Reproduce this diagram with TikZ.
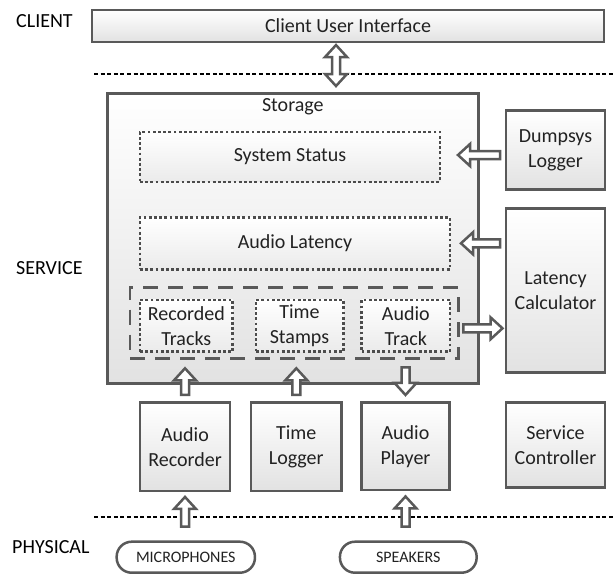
\documentclass[tikz,border=0pt]{standalone}
\usepackage{fontspec}
\setmainfont{Carlito}
\usetikzlibrary{calc}
\definecolor{edge}{HTML}{595959}
\definecolor{txt}{HTML}{222222}
\definecolor{shadeb}{HTML}{E2E2E2}
\tikzset{
  base/.style={inner sep=0pt, outer sep=0pt, text=txt, font=\fontsize{20}{25}\selectfont, align=center},
  sz/.style 2 args={minimum width=#1, minimum height=#2},
  box/.style={base, draw=edge, line width=2.5pt, top color=white, bottom color=shadeb},
  dotbox/.style={base, draw=edge!85!black, line width=2.4pt, dash pattern=on 2.8pt off 2.4pt, top color=white, bottom color=shadeb!70},
  grpbox/.style={base, draw=edge, line width=2.5pt, dash pattern=on 15pt off 10pt},
  pill/.style={base, draw=edge, line width=2.5pt, rounded corners=15pt, fill=white, font=\fontsize{16}{19}\selectfont},
  layer/.style={inner sep=0pt, anchor=west, text=black, font=\fontsize{20}{24}\selectfont},
  sepline/.style={black, line width=2.8pt, dash pattern=on 4pt off 2.6pt},
  barrow/.style={draw=edge, fill=white, line width=2.5pt, line join=miter},
}
% point along (#1) and across (#2) the arrow axis
\newcommand\bap[2]{({\x1+(#1)*\n2-(#2)*\n3},{\y1+(#1)*\n3+(#2)*\n2})}
\newcommand\blockarrow[2]{%
  \draw[barrow] let \p1=#1, \p2=#2, \n1={veclen(\x2-\x1,\y2-\y1)},
    \n2={(\x2-\x1)/\n1}, \n3={(\y2-\y1)/\n1} in
    \bap{0pt}{4pt} -- \bap{\n1-12pt}{4pt} -- \bap{\n1-12pt}{11pt} -- \bap{\n1}{0pt}
    -- \bap{\n1-12pt}{-11pt} -- \bap{\n1-12pt}{-4pt} -- \bap{0pt}{-4pt} -- cycle;}
\newcommand\dblockarrow[2]{%
  \draw[barrow] let \p1=#1, \p2=#2, \n1={veclen(\x2-\x1,\y2-\y1)},
    \n2={(\x2-\x1)/\n1}, \n3={(\y2-\y1)/\n1} in
    \bap{0pt}{0pt} -- \bap{12pt}{11pt} -- \bap{12pt}{4pt} -- \bap{\n1-12pt}{4pt}
    -- \bap{\n1-12pt}{11pt} -- \bap{\n1}{0pt} -- \bap{\n1-12pt}{-11pt}
    -- \bap{\n1-12pt}{-4pt} -- \bap{12pt}{-4pt} -- \bap{12pt}{-11pt} -- cycle;}
\begin{document}
\begin{tikzpicture}[x=1pt, y=-1pt]
\useasboundingbox (0,0) rectangle (615,574);

% layer labels
\node[layer] (lclient) at (16,21) {CLIENT};
\node[layer] (lservice) at (16,268) {SERVICE};
\node[layer] (lphys) at (12,547) {PHYSICAL};

% separators
\coordinate (s1a) at (94,74);  \coordinate (s1b) at (615,74);
\coordinate (s2a) at (94,517); \coordinate (s2b) at (615,517);
\draw[sepline] (s1a) -- (s1b);
\draw[sepline] (s2a) -- (s2b);

% client
\node[box, sz={512pt}{31.7pt}] (cui) at (348,25.9) {Client User Interface};

% storage
\node[box, sz={371pt}{290pt}] (storage) at (292.8,238.3) {};
\node[base] (storlabel) at (292.8,106.7) {Storage};
\node[dotbox, sz={300pt}{50pt}] (sysstat) at (290,156.7) {System Status};
\node[dotbox, sz={310pt}{52pt}] (audlat) at (295,243.3) {Audio Latency};
\node[grpbox, sz={328.3pt}{71pt}] (group) at (294.2,322.8) {};
\node[dotbox, sz={92.7pt}{51.7pt}] (rectr) at (186.3,325.8) {Recorded\\Tracks};
\node[dotbox, sz={87.6pt}{51.7pt}] (tstamp) at (299.5,325.8) {Time\\Stamps};
\node[dotbox, sz={88.3pt}{51.7pt}] (atrack) at (405.8,325.8) {Audio\\Track};

% right column
\node[box, sz={99pt}{78.6pt}] (dumpsys) at (555.5,150) {Dumpsys\\Logger};
\node[box, sz={99pt}{164.4pt}] (latcalc) at (555.5,290.5) {Latency\\Calculator};

% bottom row
\node[box, sz={90pt}{88.3pt}] (arec) at (185,446.8) {Audio\\Recorder};
\node[box, sz={90.7pt}{88.3pt}] (tlog) at (296.3,446.8) {Time\\Logger};
\node[box, sz={87.6pt}{87.3pt}] (aplay) at (405.5,446.3) {Audio\\Player};
\node[box, sz={99pt}{84.6pt}] (svc) at (555.5,445) {Service\\Controller};

% physical
\node[pill, sz={138.3pt}{31pt}] (mic) at (185.8,557.2) {MICROPHONES};
\node[pill, sz={136.7pt}{31pt}] (spk) at (408.3,557.2) {SPEAKERS};

% arrow end points derived from nodes
\coordinate (d1) at ($(cui.south)+(-12,3.3)$);
\coordinate (d2) at ($(storage.north)+(43.2,-7.3)$);
\coordinate (a1t) at ($(dumpsys.west |- sysstat.east)+(-6,-1.7)$);
\coordinate (a1h) at ($(sysstat.east)+(18,-1.7)$);
\coordinate (a2t) at ($(latcalc.west |- audlat.east)+(-6,0)$);
\coordinate (a2h) at ($(audlat.east)+(11,0)$);
\coordinate (a3t) at ($(group.east)+(5,5.5)$);
\coordinate (a3h) at ($(latcalc.west |- group.east)+(-3.5,5.5)$);
\coordinate (u1t) at ($(arec.north)+(0,-7.7)$);
\coordinate (u1h) at ($(arec.north |- storage.south)+(0,-15)$);
\coordinate (u2t) at ($(tlog.north)+(0,-7.7)$);
\coordinate (u2h) at ($(tlog.north |- storage.south)+(0,-15)$);
\coordinate (dnt) at ($(aplay.north |- storage.south)+(0,-16)$);
\coordinate (dnh) at ($(aplay.north)+(0,-7.7)$);
\coordinate (m1t) at ($(arec.south |- mic.north)+(0,-15)$);
\coordinate (m1h) at ($(arec.south)+(0,6)$);
\coordinate (m2t) at ($(aplay.south |- spk.north)+(0,-15)$);
\coordinate (m2h) at ($(aplay.south)+(0,6.5)$);

% block arrows
\dblockarrow{(d1)}{(d2)}
\blockarrow{(a1t)}{(a1h)}
\blockarrow{(a2t)}{(a2h)}
\blockarrow{(a3t)}{(a3h)}
\blockarrow{(u1t)}{(u1h)}
\blockarrow{(u2t)}{(u2h)}
\blockarrow{(dnt)}{(dnh)}
\blockarrow{(m1t)}{(m1h)}
\blockarrow{(m2t)}{(m2h)}
\end{tikzpicture}
\end{document}
